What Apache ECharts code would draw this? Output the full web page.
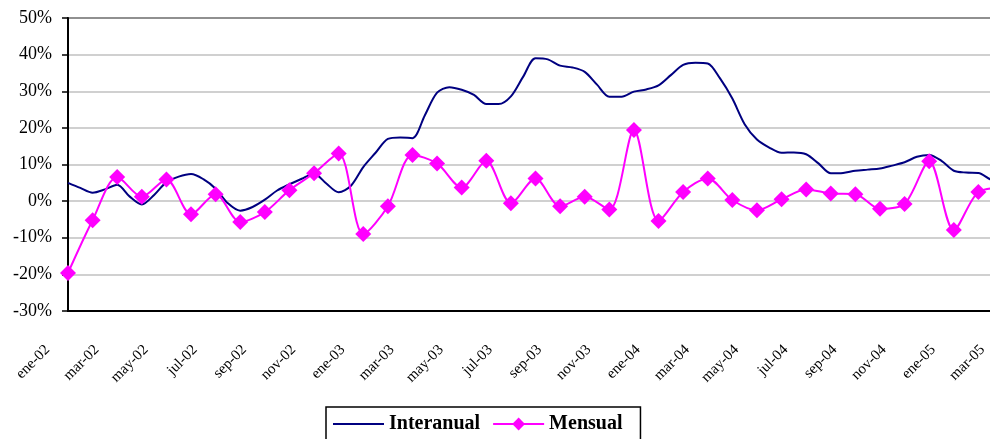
<!DOCTYPE html>
<html>
<head>
<meta charset="utf-8">
<title>Interanual y Mensual</title>
<script src="https://cdn.jsdelivr.net/npm/echarts@6/dist/echarts.min.js"></script>
<style>
html, body { margin: 0; padding: 0; overflow: hidden; background: #fff; }
#chart { width: 1040px; height: 439px; }
</style>
</head>
<body>
<div id="chart"></div>
<script>
// etiquetas del eje x, una cada dos meses
const tickLabels = ['ene-02', 'mar-02', 'may-02', 'jul-02', 'sep-02', 'nov-02', 'ene-03', 'mar-03', 'may-03', 'jul-03',
  'sep-03', 'nov-03', 'ene-04', 'mar-04', 'may-04', 'jul-04', 'sep-04', 'nov-04', 'ene-05', 'mar-05']

// Mensual (%), un valor por mes, ene-02 .. mar-05
const mensual = [-19.6, -5.2, 6.6, 1.2, 5.9, -3.6, 1.9, -5.7, -3.0, 3.0, 7.6, 13.0,
  -9.0, -1.4, 12.6, 10.3, 3.7, 11.0, -0.6, 6.2, -1.4, 1.2, -2.3, 19.4,
  -5.4, 2.5, 6.2, 0.3, -2.5, 0.5, 3.2, 2.1, 1.9, -2.1, -0.8, 10.9,
  -7.9, 2.5, 3.6]

// Interanual (%), leido cada medio mes, ene-02 .. mar-05
const interanual = [5.0, 3.6, 2.3, 3.2, 4.5, 1.3, -0.9, 1.7, 5.2, 6.7, 7.4, 6.0,
  3.4, -0.6, -2.6, -1.6, 0.4, 2.9, 4.6, 6.1, 7.5, 4.8, 2.4, 4.2,
  9.3, 13.2, 17.0, 17.4, 17.2, 23.4, 29.6, 31.1, 30.4, 29.0, 26.5, 26.5,
  28.6, 34.0, 39.0, 38.7, 37.0, 36.5, 35.3, 31.8, 28.5, 28.5, 29.9, 30.5,
  31.6, 34.4, 37.2, 37.8, 37.6, 33.5, 28.0, 21.0, 16.8, 14.6, 13.2, 13.3,
  12.8, 10.3, 7.6, 7.7, 8.3, 8.6, 8.9, 9.7, 10.6, 12.1, 12.6, 11.0,
  8.3, 7.8, 7.7, 5.9, 5.0]

const serif = "'Liberation Serif', 'Times New Roman', serif"
const chart = echarts.init(document.getElementById('chart'))

chart.setOption({
  animation: false,
  backgroundColor: '#fff',
  grid: { left: 68, top: 18, width: 935, height: 293, show: true, borderColor: '#000', borderWidth: 2 },
  xAxis: {
    type: 'value', min: 0, max: 38, interval: 2,
    axisLine: { show: true, onZero: false, lineStyle: { color: '#000', width: 2 } },
    axisTick: { show: false },
    splitLine: { show: false },
    axisLabel: {
      rotate: 45, margin: 16, padding: [0, 29, 0, 0],
      color: '#000', fontFamily: serif, fontSize: 15,
      formatter: v => tickLabels[v / 2] || ''
    }
  },
  yAxis: {
    type: 'value', min: -30, max: 50, interval: 10,
    axisLine: { show: true, onZero: false, lineStyle: { color: '#000', width: 2 } },
    axisTick: { show: true, length: 6, lineStyle: { color: '#000', width: 1.5 } },
    splitLine: { lineStyle: { color: '#c0c0c0', width: 1.5 } },
    axisLabel: { color: '#000', fontFamily: serif, fontSize: 18, margin: 16, formatter: '{value}%' }
  },
  legend: {
    left: 326, top: 407,
    padding: [7, 18, 12, 7],
    itemWidth: 51, itemHeight: 16, itemGap: 12,
    borderColor: '#000', borderWidth: 1.5,
    textStyle: { color: '#000', fontFamily: serif, fontSize: 20, fontWeight: 'bold' },
    data: [
      { name: 'Interanual', icon: 'path://M0,0 L51,0 L51,2 L0,2 Z' },
      { name: 'Mensual' }
    ]
  },
  series: [
    {
      name: 'Interanual', type: 'line', smooth: 0.3,
      symbol: 'none',
      lineStyle: { color: '#000080', width: 2 },
      itemStyle: { color: '#000080' },
      data: interanual.map((v, k) => [k / 2, v])
    },
    {
      name: 'Mensual', type: 'line', smooth: 0.3,
      symbol: 'diamond', symbolSize: 16,
      lineStyle: { color: '#ff00ff', width: 2 },
      itemStyle: { color: '#ff00ff' },
      data: mensual.map((v, i) => [i, v])
    }
  ]
})
</script>
</body>
</html>
